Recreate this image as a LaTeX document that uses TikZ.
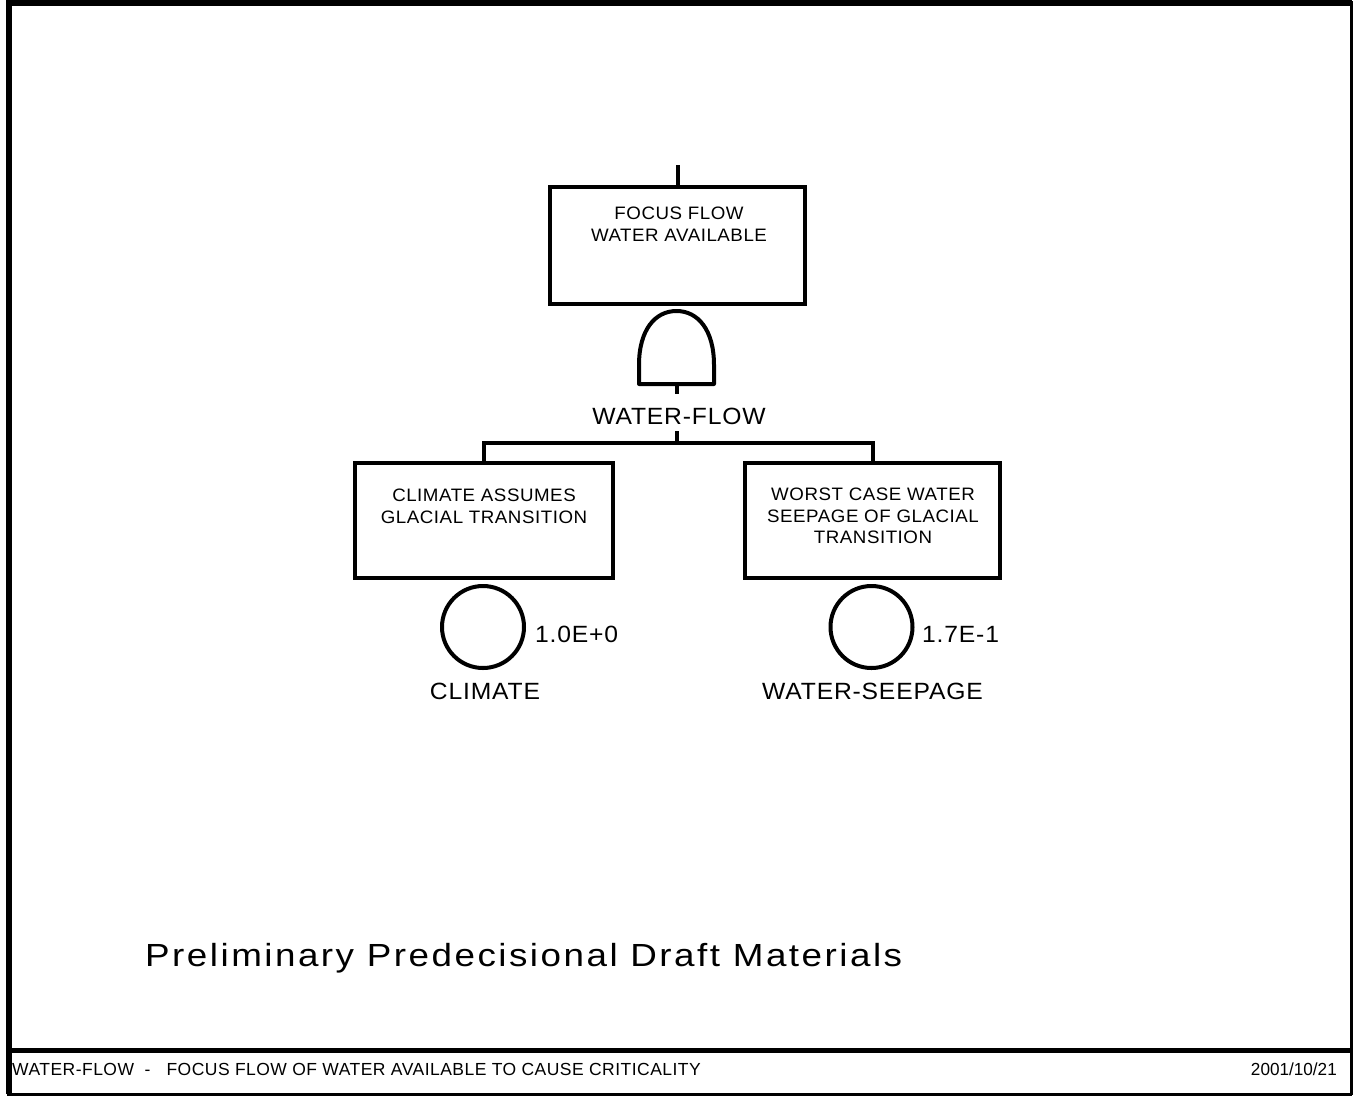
\documentclass[tikz,border=0pt]{standalone}
\usepackage{fontspec}
\setmainfont{Liberation Sans}
\begin{document}
\begin{tikzpicture}[x=1pt,y=-1pt,
  evbox/.style={draw,line width=4pt,rectangle,minimum width=255pt,minimum height=115pt,inner sep=0pt},
  boxtext/.style={align=center,font=\fontsize{18}{21.7}\selectfont\addfontfeatures{FakeStretch=1.04,LetterSpace=3},inner sep=0pt,anchor=center},
  basic/.style={draw,line width=4pt,circle,minimum size=82pt,inner sep=0pt},
  conn/.style={line width=4pt},
  biglabel/.style={font=\fontsize{23.5}{26}\selectfont\addfontfeatures{FakeStretch=1.05,LetterSpace=3.5},inner sep=0pt},
  frameline/.style={line width=6pt}]
\useasboundingbox (0,0) rectangle (1355,1096);
% frame
\draw[frameline] (9,0) -- (9,1094);
\draw[frameline] (6,3) -- (1352,3);
\draw[line width=3pt] (1351,1) -- (1351,1095);
\draw[line width=3pt] (7,1094) -- (1352,1094);
\draw[line width=5pt] (9,1050) -- (1351,1050);
% top event
\node[evbox,minimum height=117pt] (top) at (677.5,245.5) {};
\node[boxtext] (toptext) at (679,224) {FOCUS FLOW\\WATER AVAILABLE};
\coordinate (topin) at (677.5,165);
\draw[conn] (topin) -- (top.north);
% AND gate
\draw[line width=4pt,line join=round] (639,384) -- (639,365) .. controls (639,330) and (655,311) .. (676.5,311) .. controls (698,311) and (714,330) .. (714,365) -- (714,384) -- cycle;
\coordinate (gatebot) at (677,384);
\coordinate (g1) at (677,394);
\node[biglabel] (gatelabel) at (679,416.5) {WATER-FLOW};
\coordinate (g2) at (677,431);
\coordinate (bar) at (677,443);
\draw[conn] (gatebot) -- (g1);
\draw[conn] (g2) -- (bar);
% children
\node[evbox,minimum width=258pt] (left) at (484,520.5) {};
\node[boxtext] (lefttext) at (484,506) {CLIMATE ASSUMES\\GLACIAL TRANSITION};
\node[evbox] (right) at (872.5,520.5) {};
\node[boxtext] (righttext) at (873,516) {WORST CASE WATER\\SEEPAGE OF GLACIAL\\TRANSITION};
\draw[conn,line join=miter] (left.north) |- (bar) -| (right.north);
% basic events
\node[basic] (climate) at (483,627) {};
\node[biglabel,anchor=west] (climp) at (535,634.5) {1.0E+0};
\node[biglabel] (climname) at (485,691.5) {CLIMATE};
\node[basic] (seep) at (871.5,627) {};
\node[biglabel,anchor=west] (seepp) at (922,634.5) {1.7E-1};
\node[biglabel] (seepname) at (872.5,691.5) {WATER-SEEPAGE};
% title
\node[font=\fontsize{32}{36}\selectfont\addfontfeatures{FakeStretch=1.15,LetterSpace=7.8},anchor=base west,inner sep=0pt] (title) at (145,966.7) {Preliminary Predecisional Draft Materials};
% footer
\node[font=\fontsize{17.5}{20}\selectfont\addfontfeatures{LetterSpace=2.7},anchor=west,inner sep=0pt] (foot) at (12,1069.5) {WATER-FLOW \ -\ \ \ FOCUS FLOW OF WATER AVAILABLE TO CAUSE CRITICALITY};
\node[font=\fontsize{17.5}{20}\selectfont,anchor=east,inner sep=0pt] (date) at (1337,1069.5) {\scalebox{0.98}[1]{2001/10/21}};
\end{tikzpicture}
\end{document}
